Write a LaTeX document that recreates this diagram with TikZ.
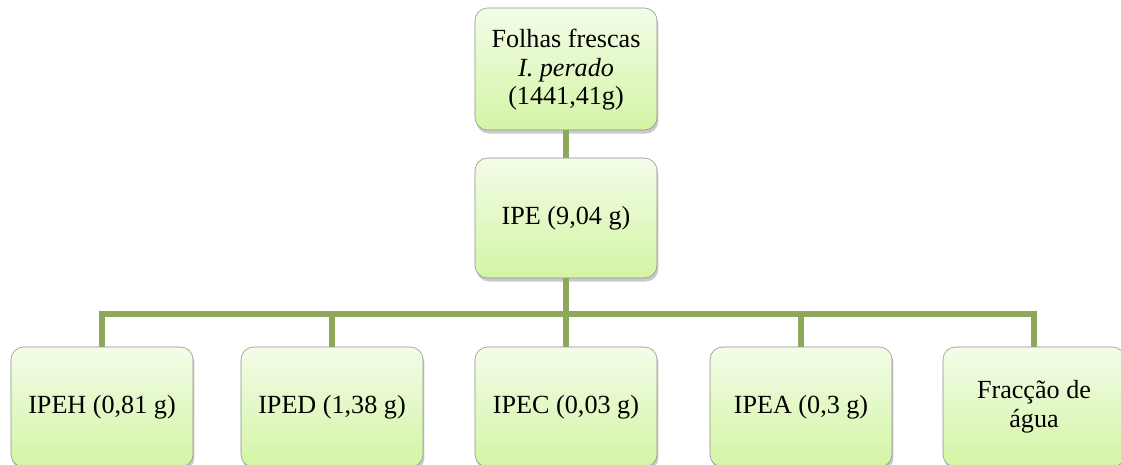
\documentclass[tikz,border=0pt]{standalone}
\usepackage{fontspec}
\setmainfont{Liberation Serif}[ItalicFont={Liberation Serif Italic}]
\usetikzlibrary{shadows}

\definecolor{boxtop}{HTML}{F3FCE8}
\definecolor{boxbot}{HTML}{D3F5A4}
\definecolor{boxline}{HTML}{8F8F8F}
\definecolor{linkgreen}{HTML}{8DA85A}

\begin{document}
\begin{tikzpicture}[x=0.025cm, y=-0.025cm,
  box/.style={draw=boxline, rounded corners=9pt, top color=boxtop, bottom color=boxbot,
    minimum width=4.55cm, minimum height=3cm, align=center,
    font=\fontsize{18.6}{20.5}\selectfont,
    drop shadow={shadow xshift=1pt, shadow yshift=-2.5pt, opacity=0.35, fill=black!60}},
  link/.style={linkgreen, line width=3.6pt}]
\useasboundingbox (0,0) rectangle (1121,465);

\node [box, minimum height=3.05cm] (fresh) at (566, 69) {\rule{0pt}{14pt}Folhas frescas\\\textit{I. perado}\\(1441,41g)};
\node [box] (ipe) at (566, 218) {IPE (9,04 g)};

\node [box] (ipeh) at (102, 407) {IPEH (0,81 g)};
\node [box] (iped) at (332, 407) {IPED (1,38 g)};
\node [box] (ipec) at (566, 407) {IPEC (0,03 g)};
\node [box] (ipea) at (801, 407) {IPEA (0,3 g)};
\node [box] (agua) at (1034, 407) {Fracção de\\água};

\coordinate (bar) at (566, 314);

\draw [link] (fresh.south) -- (ipe.north);
\draw [link] (ipe.south) -- (bar);
\draw [link] (bar) -| (ipeh.north);
\draw [link] (bar) -| (iped.north);
\draw [link] (bar) -- (ipec.north);
\draw [link] (bar) -| (ipea.north);
\draw [link] (bar) -| (agua.north);

\end{tikzpicture}
\end{document}
